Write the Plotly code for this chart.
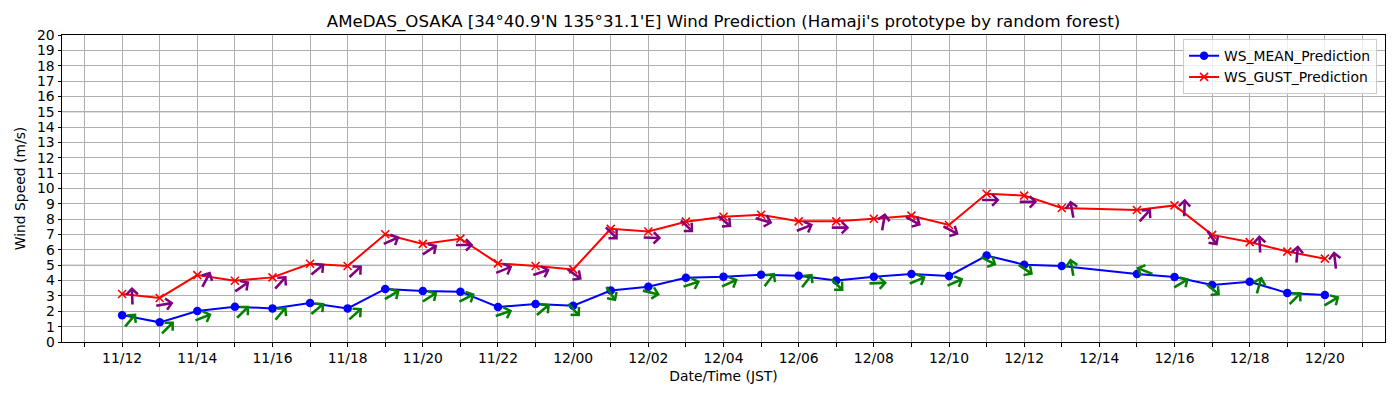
import math
from datetime import datetime, timedelta
import plotly.graph_objects as go

# ---------------- data ----------------
# time labels are "day/hour" (JST)
time_labels = ["11/12", "11/13", "11/14", "11/15", "11/16", "11/17", "11/18", "11/19",
               "11/20", "11/21", "11/22", "11/23", "12/00", "12/01", "12/02", "12/03",
               "12/04", "12/05", "12/06", "12/07", "12/08", "12/09", "12/10", "12/11",
               "12/12", "12/13", "12/15", "12/16", "12/17", "12/18", "12/19", "12/20"]

ws_mean = [1.75, 1.28, 2.02, 2.30, 2.19, 2.54, 2.19, 3.46,
           3.32, 3.28, 2.28, 2.47, 2.36, 3.35, 3.60, 4.19,
           4.25, 4.38, 4.32, 4.01, 4.25, 4.43, 4.30, 5.63,
           5.04, 4.95, 4.43, 4.23, 3.71, 3.93, 3.19, 3.06]

ws_gust = [3.13, 2.87, 4.36, 3.99, 4.21, 5.10, 4.95, 7.02,
           6.39, 6.73, 5.12, 4.95, 4.73, 7.37, 7.20, 7.84,
           8.16, 8.29, 7.86, 7.86, 8.03, 8.23, 7.62, 9.66,
           9.54, 8.73, 8.60, 8.90, 6.98, 6.51, 5.89, 5.43]

# arrow direction on screen, degrees counter-clockwise from "pointing right"
mean_dir = [50, 45, 22, 45, 50, 40, 42, 31,
            33, 27, 19, 40, -47, -56, -14, 18,
            24, 53, 52, -44, 2, 23, 24, -27,
            -34, 100, 158, 31, -40, 74, 46, 31]

gust_dir = [92, 10, 62, 35, 48, 40, 43, 24,
            33, 0, 22, 19, -35, -45, -2, -44,
            -40, -16, 22, 0, 80, -29, -28, 0,
            0, 100, 48, 88, -55, 93, 85, 97]

y_major_lines = [5, 10, 15]

title_text = "AMeDAS_OSAKA [34°40.9'N 135°31.1'E] Wind Prediction (Hamaji's prototype by random forest)"

# ---------------- helpers ----------------
BASE = datetime(2024, 2, 1)


def to_dt(lbl):
    d, h = lbl.split("/")
    return BASE + timedelta(days=int(d) - 1, hours=int(h))


times = [to_dt(t) for t in time_labels]

FONT = "DejaVu Sans"
ARROW_LEN = 19
# offset of arrow centre from point (pixels): constant + along / across direction
C0 = (4.95, 1.25)
A_ALONG = -1.45
B_ACROSS = -5.05


def arrow_annotations(xs, ys, dirs, color):
    anns = []
    for x, y, th in zip(xs, ys, dirs):
        r = math.radians(th)
        fx, fy = math.cos(r), -math.sin(r)          # screen coords, y down
        nx, ny = fy, -fx
        cx = C0[0] + A_ALONG * fx + B_ACROSS * nx
        cy = C0[1] + A_ALONG * fy + B_ACROSS * ny
        hx = cx + ARROW_LEN / 2 * fx
        hy = cy + ARROW_LEN / 2 * fy
        anns.append(dict(
            x=x, y=y, xref="x", yref="y", text="",
            showarrow=True, arrowhead=4, arrowsize=0.85, arrowwidth=2.6,
            arrowcolor=color, standoff=0, startstandoff=0,
            xshift=hx, yshift=-hy,
            ax=-ARROW_LEN * fx, ay=-ARROW_LEN * fy,
        ))
    return anns


# ---------------- figure ----------------
fig = go.Figure()

fig.add_trace(go.Scatter(
    x=times, y=ws_mean, mode="lines+markers", name="WS_MEAN_Prediction",
    line=dict(color="#0000ff", width=2),
    marker=dict(symbol="circle", size=8.5, color="#0000ff"),
))
fig.add_trace(go.Scatter(
    x=times, y=ws_gust, mode="lines+markers", name="WS_GUST_Prediction",
    line=dict(color="#ff0000", width=2),
    marker=dict(symbol="x-thin", size=8, color="#ff0000",
                line=dict(color="#ff0000", width=1.6)),
))

annotations = arrow_annotations(times, ws_mean, mean_dir, "green")
annotations += arrow_annotations(times, ws_gust, gust_dir, "purple")

shapes = [dict(type="line", xref="paper", x0=0, x1=1, yref="y", y0=v, y1=v,
               line=dict(color="#808080", width=1.2), layer="below")
          for v in y_major_lines]

pad = timedelta(hours=1.6)
grid_c = "#b0b0b0"

fig.update_layout(
    width=1400, height=400,
    margin=dict(l=62, r=15, t=35, b=58, autoexpand=False),
    paper_bgcolor="white", plot_bgcolor="white",
    font=dict(family=FONT, size=13.9, color="black"),
    title=dict(text=title_text, x=0.5, xref="paper", xanchor="center",
               y=1 - 21 / 400, yref="container", yanchor="middle",
               font=dict(family=FONT, size=16.6, color="black")),
    showlegend=True,
    legend=dict(x=0.994, xanchor="right", y=0.986, yanchor="top",
                bgcolor="rgba(255,255,255,0.8)", bordercolor="#cccccc",
                borderwidth=1, font=dict(family=FONT, size=13.9),
                tracegroupgap=0, itemwidth=30),
    annotations=annotations,
    shapes=shapes,
)

fig.update_xaxes(
    type="date", automargin=False,
    range=[times[0] - pad, times[-1] + pad],
    tick0=BASE + timedelta(days=10, hours=12), dtick=2 * 3600 * 1000,
    tickformat="%d/%H",
    ticks="outside", ticklen=3.5, tickwidth=1, tickcolor="black",
    showgrid=True, gridcolor=grid_c, gridwidth=1,
    minor=dict(dtick=3600 * 1000, ticks="outside", ticklen=3.5, tickcolor="black",
               showgrid=True, gridcolor=grid_c, gridwidth=1),
    showline=True, mirror=True, linecolor="black", linewidth=1,
    zeroline=False,
    title=dict(text="Date/Time (JST)", standoff=6, font=dict(family=FONT, size=13.9)),
)
fig.update_yaxes(
    automargin=False,
    range=[0, 20], tick0=0, dtick=1,
    ticks="outside", ticklen=3.5, tickwidth=1, tickcolor="black",
    showgrid=True, gridcolor=grid_c, gridwidth=1,
    showline=True, mirror=True, linecolor="black", linewidth=1,
    zeroline=False,
    title=dict(text="Wind Speed (m/s)", standoff=8, font=dict(family=FONT, size=13.9)),
)

fig.write_html("out.html", config={"displayModeBar": False},
               post_script="document.body.style.margin='0';")
